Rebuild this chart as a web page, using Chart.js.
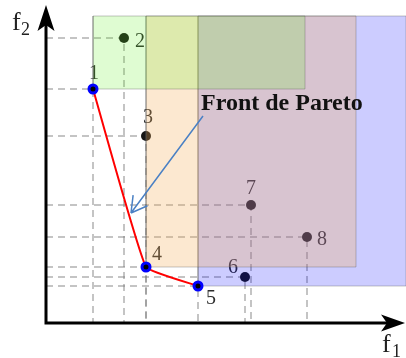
<!DOCTYPE html>
<html>
<head>
<meta charset="utf-8">
<script src="https://cdn.jsdelivr.net/npm/chart.js@4.4.1/dist/chart.umd.min.js"></script>
<style>
  html, body { margin: 0; padding: 0; background: #fff; }
  canvas { display: block; }
</style>
</head>
<body>
<canvas id="pareto" width="406" height="358"></canvas>
<script>
// solutions (f1, f2)
const pointLabels = ['1', '2', '3', '4', '5', '6', '7', '8'];
const f1Values = [4.7, 7.8, 10.0, 10.0, 15.2, 19.9, 20.5, 26.1];
const f2Values = [23.4, 28.5, 18.7, 5.6, 3.7, 4.6, 11.8, 8.6];
const frontIndices = [0, 3, 4];

// dominated regions, corner = solution index
const regionCorners = [4, 3, 0];
const regionRight = [36, 31.0, 25.9];
const regionTop = [30.7, 30.7, 30.7];

const f1Max = 36;
const f2Max = 31.8;

// annotation arrow
const arrowFrom = [15.7, 20.7];
const arrowTo = [8.5, 11.0];
const annotationText = 'Front de Pareto';

// styles
const regionFills = ['rgba(0, 0, 255, 0.2)', 'rgba(244, 173, 87, 0.28)', 'rgba(95, 240, 30, 0.2)'];
const labelOffsets = [[1, -15], [16, 4], [2, -18], [11, -12], [13, 13], [-12, -9], [0, -16], [15, 3]];

const datasets = [];

// dashed guides to both axes
f1Values.forEach((x, i) => {
    datasets.push({
        data: [{ x: 0, y: f2Values[i] }, { x: x, y: f2Values[i] }, { x: x, y: 0 }],
        showLine: true,
        borderColor: 'rgba(125, 125, 125, 0.9)',
        borderWidth: 1,
        borderDash: [7, 5],
        pointRadius: 0,
        order: 30
    });
});

// dominated points
const others = f1Values.map((x, i) => i).filter(i => !frontIndices.includes(i));
datasets.push({
    data: others.map(i => ({ x: f1Values[i], y: f2Values[i] })),
    pointRadius: 5,
    pointBackgroundColor: '#161616',
    pointBorderWidth: 0,
    order: 20
});

// dominated regions
regionCorners.forEach((c, k) => {
    const x0 = f1Values[c], y0 = f2Values[c];
    const x1 = regionRight[k], y1 = regionTop[k];
    datasets.push({
        data: [{ x: x0, y: y0 }, { x: x1, y: y0 }, { x: x1, y: y1 }, { x: x0, y: y1 }, { x: x0, y: y0 }],
        showLine: true,
        fill: 'shape',
        backgroundColor: regionFills[k],
        borderColor: 'rgba(90, 90, 90, 0.35)',
        borderWidth: 1,
        pointRadius: 0,
        order: 10 - k
    });
});

// pareto front
datasets.push({
    data: frontIndices.map(i => ({ x: f1Values[i], y: f2Values[i] })),
    showLine: true,
    borderColor: '#ff0000',
    borderWidth: 2,
    tension: 0.1,
    pointRadius: 4,
    pointBorderWidth: 3,
    pointBorderColor: '#0000ff',
    pointBackgroundColor: '#000000',
    order: 1
});

const labelsPlugin = {
    id: 'pointLabels',
    beforeDatasetsDraw(chart) {
        const { ctx, scales: { x, y } } = chart;
        ctx.save();
        ctx.font = '20px "Liberation Serif"';
        ctx.fillStyle = '#2a2a2a';
        ctx.textAlign = 'center';
        ctx.textBaseline = 'middle';
        pointLabels.forEach((t, i) => {
            ctx.fillText(t, x.getPixelForValue(f1Values[i]) + labelOffsets[i][0],
                y.getPixelForValue(f2Values[i]) + labelOffsets[i][1]);
        });
        ctx.restore();
    }
};

function stealthHead(ctx, tx, ty, ang, len, half, notch) {
    const dx = Math.cos(ang), dy = Math.sin(ang);
    const px = -dy, py = dx;
    ctx.beginPath();
    ctx.moveTo(tx, ty);
    ctx.lineTo(tx - len * dx + half * px, ty - len * dy + half * py);
    ctx.lineTo(tx - (len - notch) * dx, ty - (len - notch) * dy);
    ctx.lineTo(tx - len * dx - half * px, ty - len * dy - half * py);
    ctx.closePath();
    ctx.fill();
}

const overlayPlugin = {
    id: 'overlay',
    afterDatasetsDraw(chart) {
        const { ctx, scales: { x, y } } = chart;
        const x0 = x.getPixelForValue(0), y0 = y.getPixelForValue(0);
        const xTip = x.getPixelForValue(f1Max) - 1, yTip = y.getPixelForValue(f2Max);
        ctx.save();

        // axes
        ctx.strokeStyle = '#000';
        ctx.fillStyle = '#000';
        ctx.lineWidth = 3;
        ctx.beginPath();
        ctx.moveTo(x0, y0 + 1.5);
        ctx.lineTo(x0, yTip + 12);
        ctx.moveTo(x0 - 1.5, y0);
        ctx.lineTo(xTip - 12, y0);
        ctx.stroke();
        stealthHead(ctx, x0, yTip, -Math.PI / 2, 26, 8.5, 6);
        stealthHead(ctx, xTip, y0, 0, 24, 8.5, 6);

        // axis titles
        ctx.fillStyle = '#222';
        ctx.textBaseline = 'alphabetic';
        ctx.textAlign = 'left';
        ctx.font = '26px "Liberation Serif"';
        ctx.fillText('f', 12, 30);
        ctx.fillText('f', 382, 352);
        ctx.font = '18px "Liberation Serif"';
        ctx.fillText('2', 21, 35);
        ctx.fillText('1', 392, 357);

        // annotation arrow
        const ax = x.getPixelForValue(arrowFrom[0]), ay = y.getPixelForValue(arrowFrom[1]);
        const bx = x.getPixelForValue(arrowTo[0]), by = y.getPixelForValue(arrowTo[1]);
        const back = Math.atan2(ay - by, ax - bx);
        ctx.strokeStyle = '#4a80c4';
        ctx.lineWidth = 1.5;
        ctx.beginPath();
        ctx.moveTo(ax, ay);
        ctx.lineTo(bx, by);
        [-0.52, 0.52].forEach(d => {
            ctx.moveTo(bx, by);
            ctx.lineTo(bx + 18 * Math.cos(back + d), by + 18 * Math.sin(back + d));
        });
        ctx.stroke();

        ctx.fillStyle = '#111';
        ctx.font = 'bold 24px "Liberation Serif"';
        ctx.fillText(annotationText, 201, 110);
        ctx.restore();
    }
};

new Chart(document.getElementById('pareto'), {
    type: 'scatter',
    data: { datasets },
    options: {
        responsive: false,
        animation: false,
        devicePixelRatio: 1,
        layout: { autoPadding: false, padding: { left: 46, top: 5, right: 0, bottom: 35 } },
        scales: {
            x: { type: 'linear', min: 0, max: f1Max, display: false },
            y: { type: 'linear', min: 0, max: f2Max, display: false }
        },
        plugins: { legend: { display: false }, tooltip: { enabled: false } }
    },
    plugins: [labelsPlugin, overlayPlugin]
});
</script>
</body>
</html>
